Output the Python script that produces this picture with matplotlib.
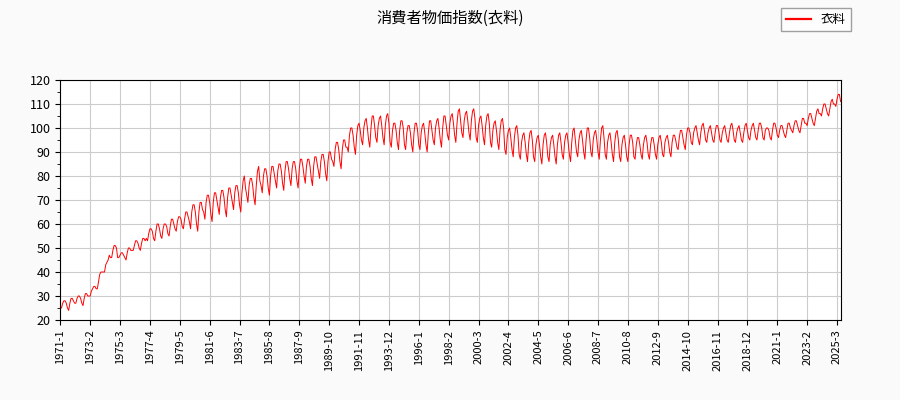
import numpy as np
import matplotlib.pyplot as plt

plt.rcParams['font.family'] = ['Noto Sans CJK JP', 'DejaVu Sans']

start_year = 1971
# 月次の値 (1971-1 から)
y1970s = [
    [25,25,27,28,28,27,25,24,27,29,29,28],
    [27,27,29,30,30,29,27,26,29,31,31,30],
    [30,30,32,33,34,34,33,33,36,39,40,40],
    [40,40,43,44,45,47,46,46,49,51,51,50],
    [46,46,47,48,48,47,46,45,48,50,50,49],
    [49,49,51,53,53,52,50,49,52,54,54,53],
    [54,53,56,58,58,57,54,53,57,60,60,58],
    [55,54,58,60,60,59,56,55,59,62,62,60],
    [58,57,61,63,63,62,59,58,62,65,65,63],
]
y1980s = [
    [61,58,65,68,68,65,60,57,65,69,69,66],
    [65,62,69,72,72,69,64,61,69,73,73,70],
    [67,64,71,74,74,71,66,63,71,75,75,72],
    [69,66,73,76,76,73,68,65,73,78,80,75],
    [72,69,76,79,79,76,71,68,76,82,84,78],
    [76,73,80,83,83,80,75,72,80,84,84,81],
    [78,75,82,85,85,82,77,74,82,86,86,83],
    [79,76,83,86,86,83,78,75,83,87,87,84],
    [80,77,84,87,87,84,79,76,84,88,88,85],
    [82,79,86,89,89,86,81,78,86,90,90,87],
]
y1990s = [
    [86,84,91,94,94,91,86,83,91,95,95,92],
    [92,90,97,100,100,97,92,89,97,101,102,99],
    [95,93,100,103,104,100,95,92,100,105,105,101],
    [96,94,101,104,105,101,96,93,101,105,106,102],
    [94,92,99,102,102,99,94,91,99,103,103,100],
    [93,91,98,101,101,98,93,90,98,102,102,99],
    [93,91,98,101,102,98,93,90,98,103,103,99],
    [95,93,100,103,104,100,95,92,100,105,105,101],
    [97,95,102,105,106,102,97,94,102,107,108,103],
    [98,96,103,106,107,103,98,95,103,107,108,104],
]
y2000s = [
    [96,94,101,104,105,101,96,93,101,105,106,102],
    [94,92,99,102,103,99,94,91,99,103,104,100],
    [91,89,96,99,100,96,91,88,96,100,101,97],
    [89,87,94,97,98,94,89,86,94,98,99,95],
    [88,86,93,96,97,93,88,85,93,97,98,94],
    [88,86,93,96,97,93,88,85,93,97,98,94],
    [89,87,94,97,98,94,89,86,94,99,100,95],
    [90,88,95,98,99,95,90,87,95,100,100,96],
    [90,88,95,98,99,95,90,87,95,100,101,96],
    [89,87,94,97,98,94,89,86,94,98,99,95],
]
y2010s = [
    [88,86,93,96,97,93,88,86,93,97,97,94],
    [88,87,93,96,96,93,89,87,93,96,97,94],
    [89,87,93,96,96,93,89,87,93,96,97,94],
    [89,88,94,96,97,94,90,88,94,97,97,95],
    [92,91,96,99,99,96,93,91,97,100,100,98],
    [94,93,98,100,101,98,95,93,98,101,102,99],
    [95,94,98,100,101,98,95,94,98,101,101,99],
    [95,94,98,100,101,98,95,94,98,101,102,99],
    [95,94,98,100,101,98,95,94,98,101,102,99],
    [96,95,99,101,102,99,96,95,99,102,102,100],
]
y2020s = [
    [96,95,99,100,100,99,96,95,99,102,102,100],
    [97,96,99,101,101,99,97,96,99,102,102,100],
    [99,98,101,103,103,101,99,98,101,104,104,102],
    [102,101,104,106,106,104,102,101,104,107,108,106],
    [106,105,108,110,110,108,106,105,108,111,112,110],
    [110,109,112,114,114,111],
]

values = [v for block in (y1970s, y1980s, y1990s, y2000s, y2010s, y2020s) for row in block for v in row]
n = len(values)
labels = ['%d-%d' % (start_year + i // 12, i % 12 + 1) for i in range(n)]

fig = plt.figure(figsize=(9, 4), dpi=100, facecolor='#fafafa')
ax = fig.add_axes([0.067, 0.2, 0.867, 0.6])
ax.plot(range(n), values, color='red', lw=0.7, label='衣料')
ax.set_xlim(0, n - 1)
ax.set_ylim(20, 120)
ax.set_yticks(range(20, 121, 10))
ax.set_yticks(range(20, 121, 5), minor=True)
tick_pos = list(range(0, n, 25))
ax.set_xticks(tick_pos)
ax.set_xticklabels([labels[i] for i in tick_pos], rotation=90, fontsize=8)
ax.tick_params(axis='y', labelsize=9)
ax.grid(True, color='#cccccc', lw=0.8)
fig.suptitle('消費者物価指数(衣料)', y=0.975, fontsize=11)
leg = fig.legend(loc='upper right', bbox_to_anchor=(0.952, 0.995), fontsize=9,
                 fancybox=False, edgecolor='#888888')
for line in leg.get_lines():
    line.set_linewidth(1.6)
fig.savefig('out.png', facecolor=fig.get_facecolor())
